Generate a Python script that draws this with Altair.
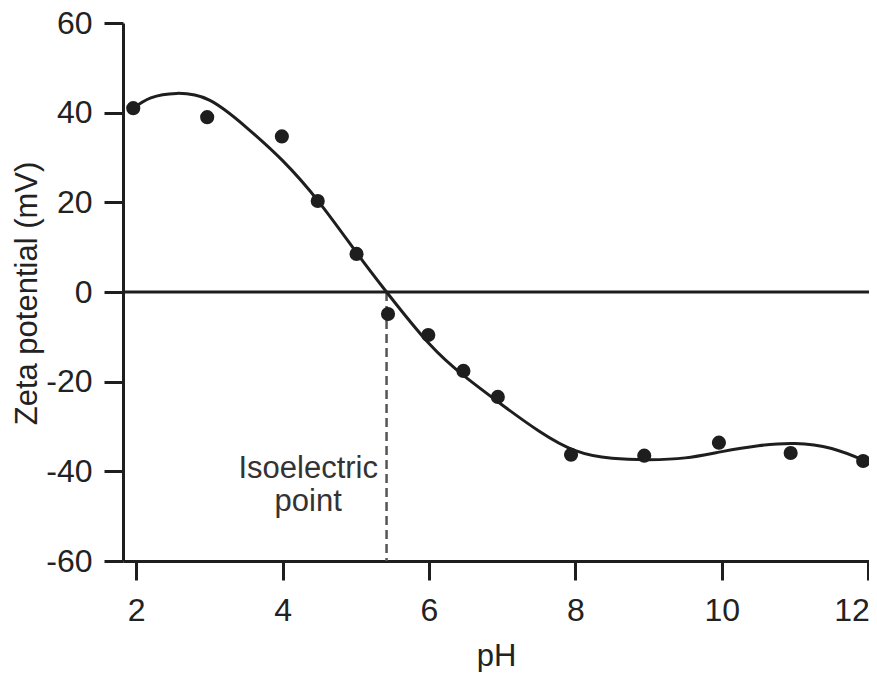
import altair as alt
import pandas as pd

# measured data points (pH, zeta potential mV)
point_ph = [1.96, 2.97, 3.99, 4.48, 5.01, 5.44, 5.99, 6.47, 6.94, 7.94, 8.94, 9.96, 10.94, 11.93]
point_zeta = [41.0, 39.0, 34.7, 20.3, 8.5, -4.9, -9.6, -17.6, -23.4, -36.3, -36.5, -33.6, -35.9, -37.7]

# fitted curve
curve_ph = [1.96, 2.2, 2.55, 3.0, 3.5, 4.0, 4.5, 5.0, 5.42, 6.0, 6.5, 7.0, 7.5, 8.0, 8.5,
            9.0, 9.5, 10.0, 10.5, 11.0, 11.5, 11.95]
curve_zeta = [41.0, 43.3, 44.3, 42.8, 36.8, 29.3, 20.0, 9.0, 0.0, -11.5, -19.0, -25.2, -31.0,
              -35.4, -37.1, -37.4, -37.0, -35.6, -34.3, -33.8, -34.9, -37.6]

iep_ph = [5.42]
annot_text = ["Isoelectric", "point"]
annot_ph = [4.35, 4.35]
annot_zeta = [-41.5, -48.8]

x_ticks = [2, 4, 6, 8, 10, 12]
y_ticks = [-60, -40, -20, 0, 20, 40, 60]

FONT = "Liberation Sans"
INK = "#1e1e1e"

pts = pd.DataFrame({"pH": point_ph, "zeta": point_zeta})
crv = pd.DataFrame({"pH": curve_ph, "zeta": curve_zeta})
iep = pd.DataFrame({"pH": iep_ph, "top": [0], "bottom": [-60]})
ann = pd.DataFrame({"pH": annot_ph, "zeta": annot_zeta, "label": annot_text})

xs = alt.Scale(domain=[1.82, 12.01], nice=False, zero=False)
ys = alt.Scale(domain=[-60, 60], nice=False)

x_axis = alt.Axis(
    values=x_ticks, title="pH", grid=False,
    domainColor=INK, domainWidth=3, tickColor=INK, tickWidth=3, tickSize=19,
    labelFont=FONT, labelFontSize=32, labelColor="#222222", labelPadding=15,
    labelFlush=False, labelOverlap=False, labelExpr="datum.value + ''",
    labelAlign={"condition": {"test": "datum.value == 12", "value": "right"}, "value": "center"},
    labelOffset={"condition": {"test": "datum.value == 12", "value": 1}, "value": 0},
    titleFont=FONT, titleFontSize=31, titleFontWeight="normal", titleColor="#222222",
    titleBaseline="alphabetic", titleY=104,
)
y_axis = alt.Axis(
    values=y_ticks, title="Zeta potential (mV)", grid=False,
    domainColor=INK, domainWidth=3, tickColor=INK, tickWidth=3, tickSize=19,
    labelFont=FONT, labelFontSize=32, labelColor="#222222", labelPadding=12,
    labelFlush=False, labelOverlap=False, labelExpr="datum.value + ''",
    titleFont=FONT, titleFontSize=31, titleFontWeight="normal", titleColor="#222222",
    titleBaseline="alphabetic", titleX=-87, titleY=270, titleAngle=270,
)

base_x = alt.X("pH:Q", scale=xs, axis=x_axis)
base_y = alt.Y("zeta:Q", scale=ys, axis=y_axis)

zero = alt.Chart(pd.DataFrame({"zeta": [0]})).mark_rule(color=INK, strokeWidth=3).encode(
    y=alt.Y("zeta:Q", scale=ys, axis=y_axis)
)

dash = alt.Chart(iep).mark_rule(color="#555555", strokeWidth=2.5, strokeDash=[9, 5]).encode(
    x=alt.X("pH:Q", scale=xs, axis=x_axis),
    y=alt.Y("top:Q", scale=ys, axis=y_axis),
    y2="bottom:Q",
)

curve = alt.Chart(crv).mark_line(color=INK, strokeWidth=3, interpolate="natural").encode(
    x=base_x, y=base_y
)

dots = alt.Chart(pts).mark_circle(color=INK, size=200, opacity=1).encode(
    x=base_x, y=base_y
)

label = alt.Chart(ann).mark_text(
    font=FONT, fontSize=31, color="#333333", align="center", baseline="alphabetic"
).encode(x=base_x, y=base_y, text="label:N")

chart = alt.layer(zero, dash, curve, dots, label).properties(
    width=746, height=538,
    background="white",
    autosize=alt.AutoSizeParams(type="none"),
    padding={"left": 115, "top": 15, "right": 0, "bottom": 111},
).configure_view(stroke="transparent", strokeWidth=0)

chart.save("out.html", embed_options={"renderer": "svg", "actions": False})
